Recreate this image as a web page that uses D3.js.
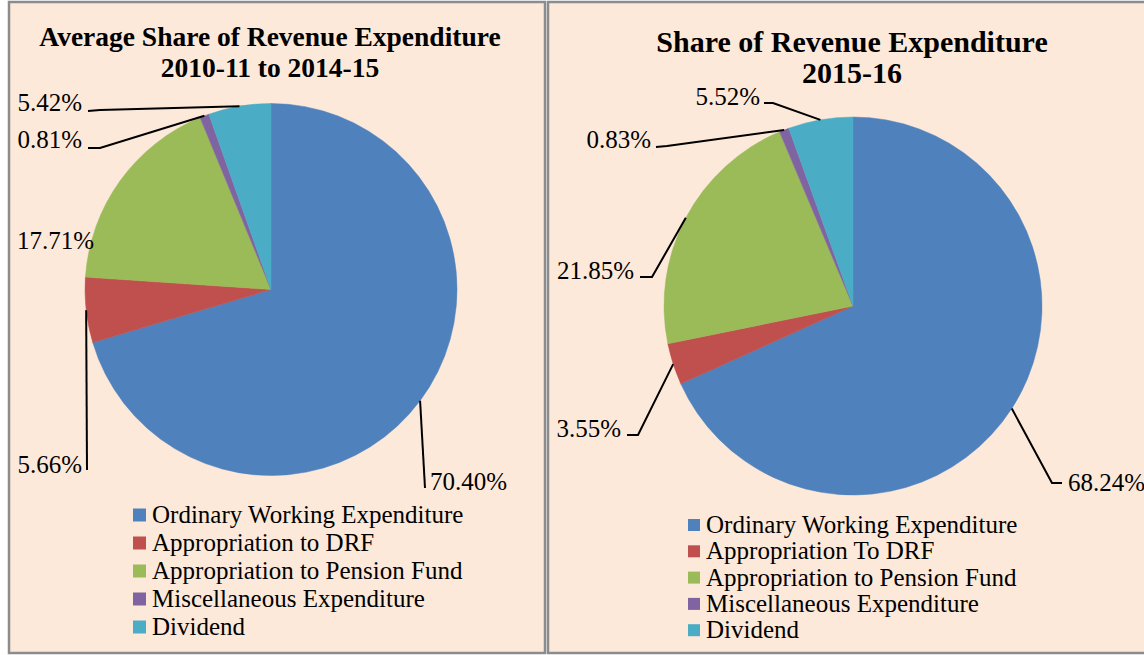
<!DOCTYPE html>
<html>
<head>
<meta charset="utf-8">
<script src="https://cdn.jsdelivr.net/npm/d3@7"></script>
<style>
    body { margin: 0; background: #ffffff; }
    text { font-family: "Liberation Serif", "Times New Roman", serif; fill: #000; }
</style>
</head>
<body>
<svg id="chart" width="1144" height="655"></svg>
<script>
// Data
var categoriesAvg = ['Ordinary Working Expenditure', 'Appropriation to DRF',
    'Appropriation to Pension Fund', 'Miscellaneous Expenditure', 'Dividend'];
var categories1516 = ['Ordinary Working Expenditure', 'Appropriation To DRF',
    'Appropriation to Pension Fund', 'Miscellaneous Expenditure', 'Dividend'];
var shareAvg = [70.40, 5.66, 17.71, 0.81, 5.42];
var share1516 = [68.24, 3.55, 21.85, 0.83, 5.52];
var titleAvg = ['Average Share of Revenue Expenditure', '2010-11 to 2014-15'];
var title1516 = ['Share of Revenue Expenditure', '2015-16'];

var sliceColors = ['#4f81bd', '#c0504d', '#9bbb59', '#8064a2', '#4bacc6'];

// Layout of each panel (label spots were placed by hand in the original)
var panels = [
    {
        title: titleAvg, categories: categoriesAvg, values: shareAvg,
        box: {x: 9, y: 2, w: 536, h: 651},
        cx: 271, cy: 289.5, r: 186,
        titleX: 270, titleY: [46, 77], titleSize: 27.5,
        legend: {x: 133, y0: 515, dy: 28, sq: 13, tx: 152, size: 25},
        labels: [
            {x: 430, y: 490, anchor: 'start', path: [[425, 488]]},
            {x: 82, y: 473, anchor: 'end', path: [[87, 470]]},
            {x: 94, y: 249, anchor: 'end', path: null},
            {x: 82, y: 148, anchor: 'end', path: [[100, 148], [88, 148]]},
            {x: 82, y: 111, anchor: 'end', path: [[100, 110], [88, 111]]}
        ]
    },
    {
        title: title1516, categories: categories1516, values: share1516,
        box: {x: 548, y: 2, w: 610, h: 651},
        cx: 853, cy: 306, r: 189,
        titleX: 852, titleY: [52, 83], titleSize: 30,
        legend: {x: 688, y0: 525, dy: 26.3, sq: 12, tx: 706, size: 25},
        labels: [
            {x: 1068, y: 491, anchor: 'start', path: [[1052, 483], [1062, 483]]},
            {x: 621, y: 437, anchor: 'end', path: [[638, 435], [627, 435]]},
            {x: 634, y: 279, anchor: 'end', path: [[652, 277], [640, 277]]},
            {x: 651, y: 148, anchor: 'end', path: [[667, 146], [656, 147]]},
            {x: 760, y: 105, anchor: 'end', path: [[773, 103], [764, 103]]}
        ]
    }
];

var svg = d3.select('#chart');

var pie = d3.pie().sort(null).value(function(d) { return d; });

var drawPanel = function(p) {
    var g = svg.append('g');

    g.append('rect')
        .attr('x', p.box.x).attr('y', p.box.y)
        .attr('width', p.box.w).attr('height', p.box.h)
        .attr('fill', '#fde9d9')
        .attr('stroke', '#8c8c8c')
        .attr('stroke-width', 2.5);

    g.selectAll('.title-line')
        .data(p.title)
        .enter().append('text')
            .attr('class', 'title-line')
            .attr('x', p.titleX)
            .attr('y', function(d, i) { return p.titleY[i]; })
            .attr('text-anchor', 'middle')
            .style('font-size', p.titleSize + 'px')
            .style('font-weight', 'bold')
            .text(function(d) { return d; });

    var arcs = pie(p.values);
    var arc = d3.arc().innerRadius(0).outerRadius(p.r);
    var edge = d3.arc().innerRadius(p.r).outerRadius(p.r);

    var pieG = g.append('g')
        .attr('transform', 'translate(' + p.cx + ',' + p.cy + ')');
    pieG.selectAll('path')
        .data(arcs)
        .enter().append('path')
            .attr('d', arc)
            .attr('fill', function(d, i) { return sliceColors[i]; })
            .attr('stroke', function(d, i) { return sliceColors[i]; })
            .attr('stroke-width', 0.5);

    // leader lines: from slice edge at its mid angle to the label
    var line = d3.line();
    arcs.forEach(function(d, i) {
        var lab = p.labels[i];
        if (!lab.path) return;
        var c = edge.centroid(d);
        var pts = [[p.cx + c[0], p.cy + c[1]]].concat(lab.path);
        g.append('path')
            .attr('d', line(pts))
            .attr('fill', 'none')
            .attr('stroke', '#000')
            .attr('stroke-width', 2);
    });

    g.selectAll('.slice-label')
        .data(arcs)
        .enter().append('text')
            .attr('class', 'slice-label')
            .attr('x', function(d, i) { return p.labels[i].x; })
            .attr('y', function(d, i) { return p.labels[i].y; })
            .attr('text-anchor', function(d, i) { return p.labels[i].anchor; })
            .style('font-size', '25px')
            .text(function(d) { return d.data.toFixed(2) + '%'; });

    var lg = p.legend;
    var item = g.selectAll('.legend-item')
        .data(p.categories)
        .enter().append('g')
            .attr('class', 'legend-item')
            .attr('transform', function(d, i) {
                return 'translate(0,' + (lg.y0 + i * lg.dy) + ')';
            });
    item.append('rect')
        .attr('x', lg.x).attr('y', -lg.sq / 2)
        .attr('width', lg.sq).attr('height', lg.sq)
        .attr('fill', function(d, i) { return sliceColors[i]; });
    item.append('text')
        .attr('x', lg.tx).attr('y', 8)
        .style('font-size', lg.size + 'px')
        .text(function(d) { return d; });
};

panels.forEach(drawPanel);
</script>
</body>
</html>
